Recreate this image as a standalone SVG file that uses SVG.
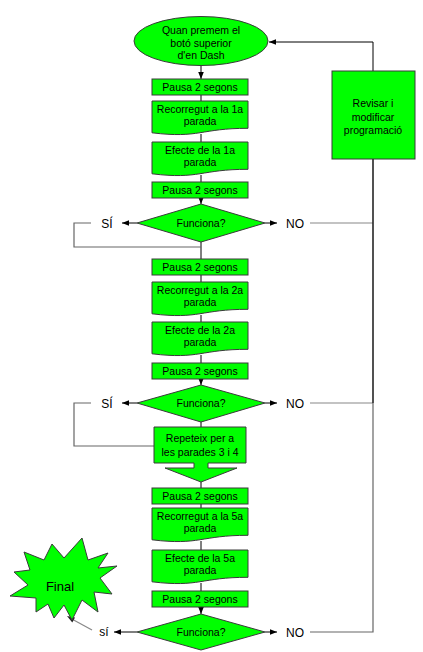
<svg xmlns="http://www.w3.org/2000/svg" width="423" height="652" viewBox="0 0 423 652">
<style>
  .shape { fill: #00ff00; stroke: #3a3a3a; stroke-width: 1; }
  .t { font-family: "Liberation Sans", Arial, sans-serif; font-size: 10.5px; fill: #000; text-anchor: middle; }
  .lbl { font-family: "Liberation Sans", Arial, sans-serif; font-size: 12px; fill: #000; text-anchor: middle; }
  .fin { font-family: "Liberation Sans", Arial, sans-serif; font-size: 13px; fill: #000; text-anchor: middle; }
  .c { fill: none; stroke: #000; stroke-width: 1; }
  .g { fill: none; stroke: #666; stroke-width: 1.2; }
  .gl { fill: none; stroke: #888; stroke-width: 1.2; }
</style>
<defs>
  <marker id="ah" viewBox="0 0 8 8" refX="8" refY="4" markerWidth="7" markerHeight="7" markerUnits="userSpaceOnUse" orient="auto">
    <path d="M0,0.8 L8,4 L0,7.2 Z" fill="#000"/>
  </marker>
</defs>
<rect width="423" height="652" fill="#fff"/>

<g id="connectors">
  <path class="c" d="M201,65 V79" marker-end="url(#ah)"/>
  <path class="c" d="M201,95 V101"/>
  <path class="c" d="M201,134 V142"/>
  <path class="c" d="M201,175 V182"/>
  <path class="c" d="M201,198 V204" marker-end="url(#ah)"/>
  <path class="c" d="M201,242 V259"/>
  <path class="c" d="M201,275 V282"/>
  <path class="c" d="M201,315 V322"/>
  <path class="c" d="M201,355 V363"/>
  <path class="c" d="M201,379 V385" marker-end="url(#ah)"/>
  <path class="c" d="M201,422 V427"/>
  <path class="c" d="M201,482 V488"/>
  <path class="c" d="M201,504 V508"/>
  <path class="c" d="M201,541 V550"/>
  <path class="c" d="M201,583 V591"/>
  <path class="c" d="M201,607 V614" marker-end="url(#ah)"/>
  <!-- Si / NO arrows -->
  <path class="c" d="M137,223 H122" marker-end="url(#ah)"/>
  <path class="c" d="M265,223 H277" marker-end="url(#ah)"/>
  <path class="c" d="M137,403 H122" marker-end="url(#ah)"/>
  <path class="c" d="M265,403 H277" marker-end="url(#ah)"/>
  <path class="c" d="M137,632 H114" marker-end="url(#ah)"/>
  <path class="c" d="M265,632 H277" marker-end="url(#ah)"/>
  <!-- NO loops back -->
  <path class="gl" d="M310,223 H373"/>
  <path class="gl" d="M310,403 H373"/>
  <path class="g" d="M310,632 H373 V159"/>
  <path class="c" d="M373,159 V403"/>
  <path class="c" d="M373,71 V42 H269" marker-end="url(#ah)"/>
  <!-- Si loops -->
  <path class="g" d="M91,223 H74 V247 H201"/>
  <path class="g" d="M91,403 H74 V446 H154"/>
  <!-- final arrow -->
  <path class="gl" d="M92,630 L70,618"/>
  <path d="M67,616 L75,617.5 L72.3,622.5 Z" fill="#222"/>
</g>

<g id="start">
  <ellipse class="shape" cx="201" cy="41" rx="67" ry="24.5"/>
  <text class="t" x="201" y="33.5">Quan premem el</text>
  <text class="t" x="201" y="46.5">botó superior</text>
  <text class="t" x="201" y="59">d'en Dash</text>
</g>

<g id="pausa1">
  <rect class="shape" x="152" y="79" width="96" height="16"/>
  <text class="t" x="200" y="90.7">Pausa 2 segons</text>
</g>
<g id="recorregut1">
  <path class="shape" d="M152,101 H248 V128.3 C200,128.3 200,138.6 152,132.8 Z"/>
  <text class="t" x="200" y="112.8">Recorregut a la 1a</text>
  <text class="t" x="200" y="124.8">parada</text>
</g>
<g id="efecte1">
  <path class="shape" d="M152,142 H248 V169.3 C200,169.3 200,179.6 152,173.8 Z"/>
  <text class="t" x="200" y="153.8">Efecte de la 1a</text>
  <text class="t" x="200" y="165.8">parada</text>
</g>
<g id="pausa2">
  <rect class="shape" x="152" y="182" width="96" height="16"/>
  <text class="t" x="200" y="193.7">Pausa 2 segons</text>
</g>
<g id="decisio1">
  <polygon class="shape" points="201,204 265,223 201,242 137,223"/>
  <text class="t" x="201" y="226.7">Funciona?</text>
  <text class="lbl" x="107" y="227.5">SÍ</text>
  <text class="lbl" x="295" y="227.5">NO</text>
</g>

<g id="pausa3">
  <rect class="shape" x="152" y="259" width="96" height="16"/>
  <text class="t" x="200" y="270.7">Pausa 2 segons</text>
</g>
<g id="recorregut2">
  <path class="shape" d="M152,282 H248 V309.3 C200,309.3 200,319.6 152,313.8 Z"/>
  <text class="t" x="200" y="293.8">Recorregut a la 2a</text>
  <text class="t" x="200" y="305.8">parada</text>
</g>
<g id="efecte2">
  <path class="shape" d="M152,322 H248 V349.3 C200,349.3 200,359.6 152,353.8 Z"/>
  <text class="t" x="200" y="333.8">Efecte de la 2a</text>
  <text class="t" x="200" y="345.8">parada</text>
</g>
<g id="pausa4">
  <rect class="shape" x="152" y="363" width="96" height="16"/>
  <text class="t" x="200" y="374.7">Pausa 2 segons</text>
</g>
<g id="decisio2">
  <polygon class="shape" points="201,385 265,403 201,422 137,403"/>
  <text class="t" x="201" y="406.7">Funciona?</text>
  <text class="lbl" x="107" y="407.5">SÍ</text>
  <text class="lbl" x="295" y="407.5">NO</text>
</g>

<g id="repeteix">
  <polygon class="shape" points="154,427 246,427 246,463 208,463 208,468 237,468 201,482 165,468 194,468 194,463 154,463"/>
  <text class="t" x="200" y="441.7">Repeteix per a</text>
  <text class="t" x="200" y="455.7">les parades 3 i 4</text>
</g>

<g id="pausa5">
  <rect class="shape" x="152" y="488" width="96" height="16"/>
  <text class="t" x="200" y="499.7">Pausa 2 segons</text>
</g>
<g id="recorregut5">
  <path class="shape" d="M152,508 H248 V535.3 C200,535.3 200,545.6 152,539.8 Z"/>
  <text class="t" x="200" y="519.8">Recorregut a la 5a</text>
  <text class="t" x="200" y="531.8">parada</text>
</g>
<g id="efecte5">
  <path class="shape" d="M152,550 H248 V577.3 C200,577.3 200,587.6 152,581.8 Z"/>
  <text class="t" x="200" y="561.8">Efecte de la 5a</text>
  <text class="t" x="200" y="573.8">parada</text>
</g>
<g id="pausa6">
  <rect class="shape" x="152" y="591" width="96" height="16"/>
  <text class="t" x="200" y="602.7">Pausa 2 segons</text>
</g>
<g id="decisio3">
  <polygon class="shape" points="201,614 265,632 201,650 137,632"/>
  <text class="t" x="201" y="635.7">Funciona?</text>
  <text class="lbl" x="104" y="636">sí</text>
  <text class="lbl" x="295" y="636.5">NO</text>
</g>

<g id="revisar">
  <rect class="shape" x="332" y="71" width="83" height="88"/>
  <text class="t" x="373" y="106.7">Revisar i</text>
  <text class="t" x="373" y="120.7">modificar</text>
  <text class="t" x="373" y="133.7">programació</text>
</g>

<g id="final">
  <polygon class="shape" points="82,538 88,560 108,553 98,568 117,566 100,578 112,594 94,592 98,612 82,600 72,620 64,605 54,618 48,604 36,612 36,598 10,596 28,585 14,572 30,570 24,552 44,560 52,544 64,558"/>
  <text class="fin" x="60" y="591">Final</text>
</g>
</svg>
